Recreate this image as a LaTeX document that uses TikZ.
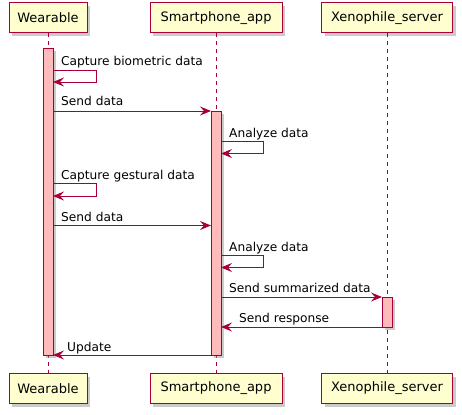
\documentclass[tikz,border=0pt]{standalone}
\usepackage{fontspec}
\setmainfont{DejaVu Sans}
\usetikzlibrary{arrows.meta,shadows}
\definecolor{pborder}{HTML}{A80036}
\definecolor{pfill}{HTML}{FEFECE}
\definecolor{afill}{HTML}{FFBBBB}
\tikzset{
  part/.style={draw=pborder, fill=pfill, line width=1pt, minimum height=30pt, inner sep=0pt,
    font=\fontsize{13}{15}\selectfont,
    drop shadow={shadow xshift=3pt, shadow yshift=-3pt, fill=black!45, opacity=0.45}},
  act/.style={draw=pborder, fill=afill, line width=0.8pt, minimum width=10pt, inner sep=0pt, anchor=north,
    drop shadow={shadow xshift=2.5pt, shadow yshift=-2.5pt, fill=black!45, opacity=0.45}},
  msg/.style={draw=pborder, line width=0.9pt, -{Stealth[length=11pt,width=9pt,inset=4pt]}},
  lbl/.style={font=\fontsize{12.2}{14}\selectfont, inner sep=0pt, anchor=base west},
  life/.style={draw=pborder, line width=0.8pt, dash pattern=on 4pt off 4pt}
}
\begin{document}
\begin{tikzpicture}[x=1pt,y=-1pt]
\useasboundingbox (0,0) rectangle (462,414);
% participants
\node[part, minimum width=78pt]  (wT) at (48,18)    {Wearable};
\node[part, minimum width=132pt] (sT) at (216,18)   {Smartphone\_app};
\node[part, minimum width=131pt] (xT) at (387,18)   {Xenophile\_server};
\node[part, minimum width=78pt]  (wB) at (48,388.5)  {Wearable};
\node[part, minimum width=132pt] (sB) at (216,388.5) {Smartphone\_app};
\node[part, minimum width=131pt] (xB) at (387,388.5) {Xenophile\_server};
% lifelines
\draw[life] (wT.south) -- (wB.north);
\draw[life] (sT.south) -- (sB.north);
\draw[life] (xT.south) -- (xB.north);
% activations
\node[act, minimum height=307pt] (wA) at (48,48) {};
\node[act, minimum height=244pt] (sA) at (216,111) {};
\node[act, minimum height=30pt]  (xA) at (387,297) {};
% message coordinates
\coordinate (m1a) at (53,70);   \coordinate (m1b) at (96,70);
\coordinate (m1c) at (96,82);   \coordinate (m1d) at (53,82);
\coordinate (m2a) at (53,111);  \coordinate (m2b) at (211,111);
\coordinate (m3a) at (221,141.5); \coordinate (m3b) at (263,141.5);
\coordinate (m3c) at (263,153.5); \coordinate (m3d) at (221,153.5);
\coordinate (m4a) at (53,183.5); \coordinate (m4b) at (96,183.5);
\coordinate (m4c) at (96,196);   \coordinate (m4d) at (53,196);
\coordinate (m5a) at (53,225.5); \coordinate (m5b) at (211,225.5);
\coordinate (m6a) at (221,255.5); \coordinate (m6b) at (263,255.5);
\coordinate (m6c) at (263,267.5); \coordinate (m6d) at (221,267.5);
\coordinate (m7a) at (221,297); \coordinate (m7b) at (382,297);
\coordinate (m8a) at (382,327); \coordinate (m8b) at (221,327);
\coordinate (m9a) at (211,355); \coordinate (m9b) at (53,355);
% messages
\draw[msg] (m1a) -- (m1b) -- (m1c) -- (m1d);
\draw[msg] (m2a) -- (m2b);
\draw[msg] (m3a) -- (m3b) -- (m3c) -- (m3d);
\draw[msg] (m4a) -- (m4b) -- (m4c) -- (m4d);
\draw[msg] (m5a) -- (m5b);
\draw[msg] (m6a) -- (m6b) -- (m6c) -- (m6d);
\draw[msg] (m7a) -- (m7b);
\draw[msg] (m8a) -- (m8b);
\draw[msg] (m9a) -- (m9b);
% labels
\node[lbl] (l1) at (61,66)  {Capture biometric data};
\node[lbl] (l2) at (61,106) {Send data};
\node[lbl] (l3) at (229,137) {Analyze data};
\node[lbl] (l4) at (61,179) {Capture gestural data};
\node[lbl] (l5) at (61,221) {Send data};
\node[lbl] (l6) at (229,251) {Analyze data};
\node[lbl] (l7) at (229,292.5) {Send summarized data};
\node[lbl] (l8) at (239,322) {Send response};
\node[lbl] (l9) at (67,351.5) {Update};
\end{tikzpicture}
\end{document}
